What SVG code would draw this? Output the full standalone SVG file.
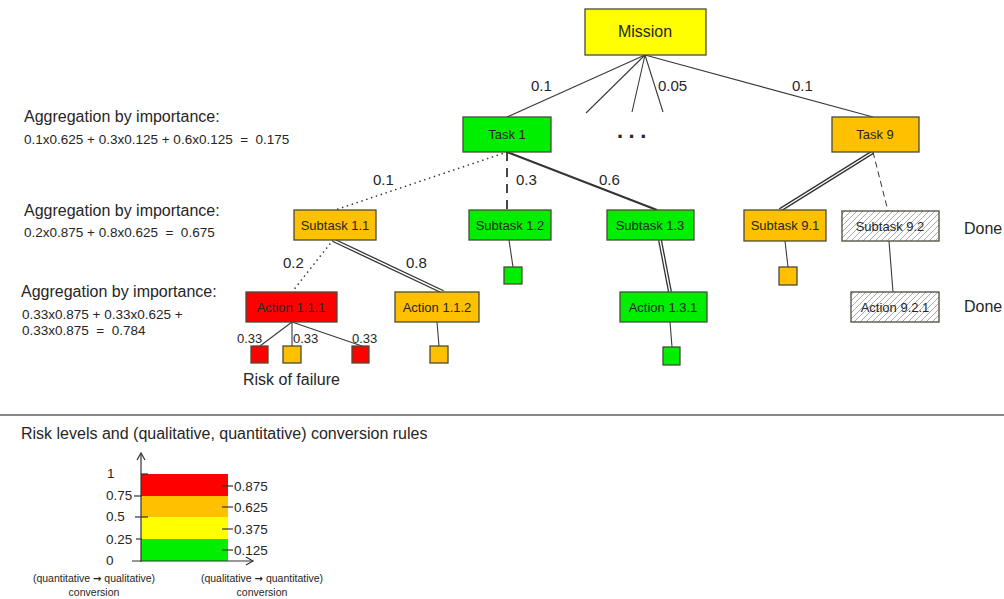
<svg xmlns="http://www.w3.org/2000/svg" width="1004" height="599" viewBox="0 0 1004 599">
<defs>
<pattern id="hatch" patternUnits="userSpaceOnUse" width="6" height="6">
<rect width="6" height="6" fill="#ffffff"/>
<path d="M-1,7 L7,-1 M-1,1 L1,-1 M5,7 L7,5" stroke="#aaaaaa" stroke-width="1"/>
</pattern>
<style>
text{font-family:"Liberation Sans",Arial,sans-serif;fill:#262626}
.box{stroke:#4a4a3a;stroke-width:1.3}
.y{fill:#ffff00}.g{fill:#00ee00}.o{fill:#ffc000}.r{fill:#ff0000}.h{fill:url(#hatch)}
.nl{font-size:13px;text-anchor:middle}
.ln{stroke:#3a3a3a;stroke-width:1.1;fill:none}
.dot{stroke:#333;stroke-width:1.6;stroke-dasharray:0.1 5;stroke-linecap:round;fill:none}
.dbo{stroke:#333;stroke-width:4;fill:none}
.dbi{stroke:#fff;stroke-width:1.4;fill:none}
.w{font-size:15px}
.s{font-size:13px}
.f{font-size:13.5px}
.ag{font-size:16px}
.arr{font-family:"DejaVu Sans",sans-serif;font-weight:bold;font-size:10px}
</style>
</defs>
<rect width="1004" height="599" fill="#ffffff"/>

<g id="connectors">
<line class="ln" x1="645" y1="55" x2="507" y2="117"/>
<line class="ln" x1="645" y1="55" x2="586" y2="113"/>
<line class="ln" x1="645" y1="55" x2="632" y2="112"/>
<line class="ln" x1="645" y1="55" x2="663" y2="112"/>
<line class="ln" x1="645" y1="55" x2="873" y2="117"/>
<line class="dot" x1="507" y1="152" x2="335" y2="210"/>
<line x1="507" y1="152" x2="507" y2="210" stroke="#333" stroke-width="1.8" stroke-dasharray="9 7"/>
<line x1="507" y1="152" x2="657" y2="210" stroke="#333" stroke-width="2"/>
<line class="dot" x1="333" y1="240" x2="292" y2="292"/>
<line class="dbo" x1="333" y1="240" x2="443" y2="292"/>
<line class="dbi" x1="333" y1="240" x2="443" y2="292"/>
<line class="dbo" x1="660" y1="240" x2="670" y2="292"/>
<line class="dbi" x1="660" y1="240" x2="670" y2="292"/>
<line class="dbo" x1="873" y1="152" x2="780" y2="210"/>
<line class="dbi" x1="873" y1="152" x2="780" y2="210"/>
<line x1="873" y1="152" x2="888" y2="211" stroke="#333" stroke-width="1" stroke-dasharray="6 4"/>
<line class="ln" x1="292" y1="322" x2="260" y2="346"/>
<line class="ln" x1="292" y1="322" x2="292" y2="346"/>
<line class="ln" x1="292" y1="322" x2="362" y2="346"/>
<line class="ln" x1="437" y1="322" x2="439" y2="346"/>
<line class="ln" x1="509" y1="240" x2="513" y2="267"/>
<line class="ln" x1="670" y1="322" x2="672" y2="347"/>
<line class="ln" x1="785" y1="241" x2="788" y2="267"/>
<line class="ln" x1="889" y1="241" x2="893" y2="292"/>
</g>

<g id="weights">
<text class="w" x="531" y="91">0.1</text>
<text class="w" x="658" y="91">0.05</text>
<text class="w" x="792" y="91">0.1</text>
<text x="617" y="138" font-size="22" font-weight="bold" letter-spacing="5.5" fill="#000">...</text>
<text class="w" x="373" y="185">0.1</text>
<text class="w" x="516" y="185">0.3</text>
<text class="w" x="599" y="185">0.6</text>
<text class="w" x="283" y="268">0.2</text>
<text class="w" x="406" y="268">0.8</text>
<text class="s" x="237" y="343">0.33</text>
<text class="s" x="293" y="343">0.33</text>
<text class="s" x="352" y="343">0.33</text>
</g>

<g id="mission"><rect class="box y" x="585" y="9" width="121" height="46"/><text x="645" y="37" font-size="16" text-anchor="middle">Mission</text></g>
<g id="task1"><rect class="box g" x="463" y="117" width="88" height="35"/><text class="nl" x="507" y="139">Task 1</text></g>
<g id="task9"><rect class="box o" x="832" y="117" width="87" height="35"/><text class="nl" x="875" y="139">Task 9</text></g>
<g id="subtask11"><rect class="box o" x="294" y="210" width="82" height="30"/><text class="nl" x="335" y="230">Subtask 1.1</text></g>
<g id="subtask12"><rect class="box g" x="469" y="210" width="82" height="30"/><text class="nl" x="510" y="230">Subtask 1.2</text></g>
<g id="subtask13"><rect class="box g" x="607" y="210" width="87" height="30"/><text class="nl" x="650" y="230">Subtask 1.3</text></g>
<g id="subtask91"><rect class="box o" x="744" y="210" width="82" height="31"/><text class="nl" x="785" y="230">Subtask 9.1</text></g>
<g id="subtask92"><rect class="box h" x="842" y="211" width="97" height="30" stroke="#555"/><text class="nl" x="890" y="231">Subtask 9.2</text></g>
<g id="action111"><rect class="box r" x="246" y="292" width="91" height="30"/><text class="nl" x="291" y="312">Action 1.1.1</text></g>
<g id="action112"><rect class="box o" x="395" y="292" width="84" height="30"/><text class="nl" x="437" y="312">Action 1.1.2</text></g>
<g id="action131"><rect class="box g" x="620" y="292" width="87" height="30"/><text class="nl" x="663" y="312">Action 1.3.1</text></g>
<g id="action921"><rect class="box h" x="851" y="292" width="88" height="30" stroke="#555"/><text class="nl" x="895" y="312">Action 9.2.1</text></g>

<g id="risk1"><rect class="box r" x="251" y="346" width="17" height="17"/></g>
<g id="risk2"><rect class="box o" x="283" y="346" width="18" height="17"/></g>
<g id="risk3"><rect class="box r" x="352" y="346" width="17" height="17"/></g>
<g id="risk4"><rect class="box o" x="430" y="346" width="18" height="17"/></g>
<g id="risk5"><rect class="box g" x="504" y="267" width="18" height="17"/></g>
<g id="risk6"><rect class="box g" x="663" y="347" width="17" height="18"/></g>
<g id="risk7"><rect class="box o" x="779" y="267" width="18" height="18"/></g>

<g id="annotations">
<text x="964" y="234" font-size="16">Done</text>
<text x="964" y="312" font-size="16">Done</text>
<text x="243" y="385" font-size="16">Risk of failure</text>
<text class="ag" x="24" y="122">Aggregation by importance:</text>
<text class="f" x="24" y="144" xml:space="preserve">0.1x0.625 + 0.3x0.125 + 0.6x0.125  =  0.175</text>
<text class="ag" x="24" y="216">Aggregation by importance:</text>
<text class="f" x="24" y="237" xml:space="preserve">0.2x0.875 + 0.8x0.625  =  0.675</text>
<text class="ag" x="21" y="297">Aggregation by importance:</text>
<text class="f" x="22" y="319" xml:space="preserve">0.33x0.875 + 0.33x0.625 +</text>
<text class="f" x="22" y="335" xml:space="preserve">0.33x0.875  =  0.784</text>
</g>

<g id="legend">
<line x1="0" y1="415" x2="1004" y2="415" stroke="#888" stroke-width="2"/>
<text x="21" y="439" font-size="16">Risk levels and (qualitative, quantitative) conversion rules</text>
<rect x="141" y="474" width="87" height="22" fill="#ff0000"/>
<rect x="141" y="496" width="87" height="21" fill="#ffc000"/>
<rect x="141" y="517" width="87" height="22" fill="#ffff00"/>
<rect x="141" y="539" width="87" height="22" fill="#00ee00"/>
<g stroke="#333" stroke-width="1.2" fill="none">
<line x1="141" y1="562" x2="141" y2="454"/>
<polyline points="137,460 141,453 145,460"/>
<line x1="132" y1="561" x2="253" y2="561"/>
<polyline points="246,557 253,561 246,565"/>
<line x1="141" y1="474" x2="148" y2="474"/>
<line x1="134" y1="496" x2="142" y2="496"/>
<line x1="135" y1="517" x2="148" y2="517"/>
<line x1="136" y1="539" x2="142" y2="539"/>
<line x1="222" y1="486" x2="233" y2="486"/>
<line x1="222" y1="507" x2="233" y2="507"/>
<line x1="222" y1="529" x2="233" y2="529"/>
<line x1="222" y1="550" x2="233" y2="550"/>
</g>
<g font-size="13.5">
<text x="107" y="478">1</text>
<text x="106" y="500">0.75</text>
<text x="106" y="521">0.5</text>
<text x="106" y="544">0.25</text>
<text x="106" y="565">0</text>
<text x="234" y="491">0.875</text>
<text x="234" y="512">0.625</text>
<text x="234" y="534">0.375</text>
<text x="234" y="555">0.125</text>
</g>
<g font-size="10.5" text-anchor="middle">
<text x="94" y="582">(quantitative <tspan class="arr">→</tspan> qualitative)</text>
<text x="94" y="596">conversion</text>
<text x="262" y="582">(qualitative <tspan class="arr">→</tspan> quantitative)</text>
<text x="262" y="596">conversion</text>
</g>
</g>
</svg>
